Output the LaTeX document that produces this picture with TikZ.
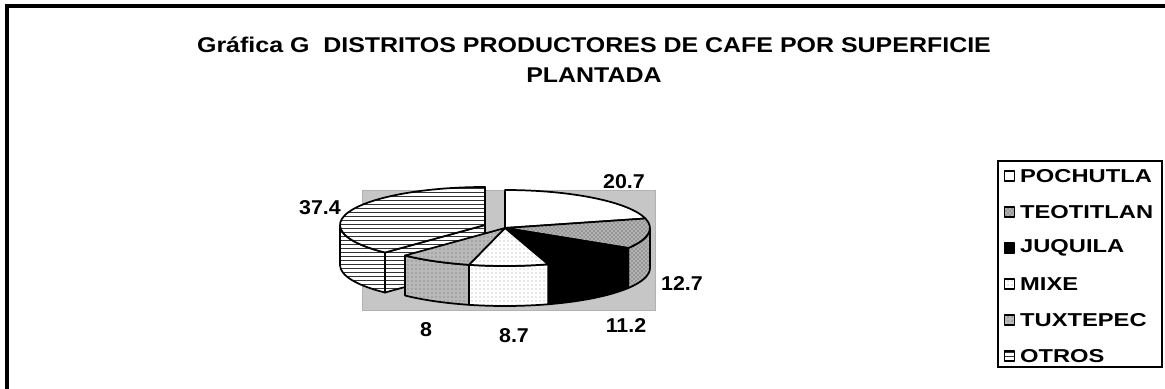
\documentclass[tikz,border=0pt]{standalone}
\usepackage{fontspec}
\setmainfont{Liberation Sans}
\usetikzlibrary{patterns,positioning}

\begin{document}
\begin{tikzpicture}[x=0.75pt, y=-0.75pt,
    slice/.style={draw=black, line width=1.3pt, line join=round},
    pochutla/.style={slice, fill=white},
    teotitlan/.style={slice, preaction={fill=gray!60}, pattern=crosshatch dots, pattern color=black!75},
    juquila/.style={slice, fill=black},
    mixe/.style={slice, preaction={fill=white}, pattern=dots, pattern color=gray!80},
    tuxtepec/.style={slice, preaction={fill=gray!55}, pattern=dots, pattern color=black!60},
    otros/.style={slice, preaction={fill=white}, pattern=horizontal lines, pattern color=black!80},
    plotarea/.style={fill=gray!45, draw=gray!60},
    titletext/.style={font=\bfseries\fontsize{16}{19}\selectfont, xscale=1.17, inner sep=0pt},
    val/.style={font=\bfseries\fontsize{15}{18}\selectfont, xscale=1.07, inner sep=0pt},
    legbox/.style={draw=black, line width=1pt, minimum size=7.5pt, inner sep=0pt},
    legtext/.style={font=\bfseries\fontsize{14}{17}\selectfont, xscale=1.27, inner sep=0pt}]
    \useasboundingbox (0,0) rectangle (1165,389);

    % Frame
    \draw[line width=3pt] (5,6) -- (1165,6);
    \draw[line width=3pt] (7,4) -- (7,389);

    % Title
    \node[titletext] (title) at (594,45) {Gráfica G~~DISTRITOS PRODUCTORES DE CAFE POR SUPERFICIE};
    \node[titletext] (title2) at (594,75) {PLANTADA};

    % Plot area
    \path[plotarea] (362,190) rectangle (655,310);
    \coordinate (c) at (505,228);
    \coordinate (co) at (485,225);

    % OTROS (pulled out)
    \draw[otros] (co) -- ++({145*cos(133.6)},{38*sin(133.6)}) -- ++(0,40) -- ++({-145*cos(133.6)},{-38*sin(133.6)}) -- cycle;
    \draw[otros] (co) ++({145*cos(133.6)},{38*sin(133.6)}) arc[start angle=133.6, end angle=180, x radius=145, y radius=38] -- ++(0,40) arc[start angle=180, end angle=133.6, x radius=145, y radius=38] -- cycle;
    \draw[otros] (co) -- ++({145*cos(133.6)},{38*sin(133.6)}) arc[start angle=133.6, end angle=270, x radius=145, y radius=38] -- cycle;

    % Walls
    \draw[teotitlan] (c) ++(145,0) arc[start angle=0, end angle=31.8, x radius=145, y radius=38] -- ++(0,40) arc[start angle=31.8, end angle=0, x radius=145, y radius=38] -- cycle;
    \draw[juquila] (c) ++({145*cos(31.8)},{38*sin(31.8)}) arc[start angle=31.8, end angle=72.7, x radius=145, y radius=38] -- ++(0,40) arc[start angle=72.7, end angle=31.8, x radius=145, y radius=38] -- cycle;
    \draw[mixe] (c) ++({145*cos(72.7)},{38*sin(72.7)}) arc[start angle=72.7, end angle=104.4, x radius=145, y radius=38] -- ++(0,40) arc[start angle=104.4, end angle=72.7, x radius=145, y radius=38] -- cycle;
    \draw[tuxtepec] (c) ++({145*cos(104.4)},{38*sin(104.4)}) arc[start angle=104.4, end angle=133.6, x radius=145, y radius=38] -- ++(0,40) arc[start angle=133.6, end angle=104.4, x radius=145, y radius=38] -- cycle;

    % Tops
    \draw[pochutla] (c) -- ++({145*cos(270)},{38*sin(270)}) arc[start angle=270, end angle=345.5, x radius=145, y radius=38] -- cycle;
    \draw[teotitlan] (c) -- ++({145*cos(345.5)},{38*sin(345.5)}) arc[start angle=345.5, end angle=391.8, x radius=145, y radius=38] -- cycle;
    \draw[juquila] (c) -- ++({145*cos(391.8)},{38*sin(391.8)}) arc[start angle=391.8, end angle=432.7, x radius=145, y radius=38] -- cycle;
    \draw[mixe] (c) -- ++({145*cos(432.7)},{38*sin(432.7)}) arc[start angle=432.7, end angle=464.4, x radius=145, y radius=38] -- cycle;
    \draw[tuxtepec] (c) -- ++({145*cos(464.4)},{38*sin(464.4)}) arc[start angle=464.4, end angle=493.6, x radius=145, y radius=38] -- cycle;

    % Values
    \node[val] (v-otros) at (320,208) {37.4};
    \node[val] (v-pochutla) at (624,182) {20.7};
    \node[val] (v-teotitlan) at (682,284) {12.7};
    \node[val] (v-juquila) at (626,326) {11.2};
    \node[val] (v-mixe) at (514,336) {8.7};
    \node[val] (v-tuxtepec) at (426,330) {8};

    % Legend
    \draw[line width=1pt] (998,161) rectangle (1162,367);
    \node[pochutla, legbox] (m-pochutla) at (1009.5,176) {};
    \node[teotitlan, legbox, below=18.5pt of m-pochutla] (m-teotitlan) {};
    \node[juquila, legbox, below=18.5pt of m-teotitlan] (m-juquila) {};
    \node[mixe, legbox, below=18.5pt of m-juquila] (m-mixe) {};
    \node[tuxtepec, legbox, below=18.5pt of m-mixe] (m-tuxtepec) {};
    \node[otros, legbox, below=18.5pt of m-tuxtepec] (m-otros) {};
    \node[legtext, right=3.5pt of m-pochutla] (l-pochutla) {POCHUTLA};
    \node[legtext, right=3.5pt of m-teotitlan] (l-teotitlan) {TEOTITLAN};
    \node[legtext, right=3.5pt of m-juquila] (l-juquila) {JUQUILA};
    \node[legtext, right=3.5pt of m-mixe] (l-mixe) {MIXE};
    \node[legtext, right=3.5pt of m-tuxtepec] (l-tuxtepec) {TUXTEPEC};
    \node[legtext, right=3.5pt of m-otros] (l-otros) {OTROS};
\end{tikzpicture}
\end{document}
